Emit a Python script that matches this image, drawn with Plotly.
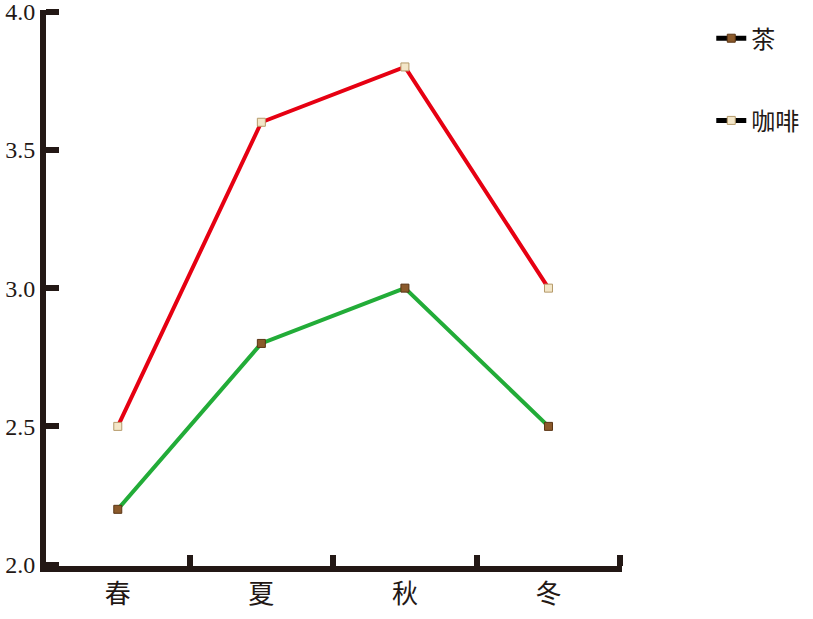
import plotly.graph_objects as go

seasons = ["春", "夏", "秋", "冬"]
tea = [2.2, 2.8, 3.0, 2.5]
coffee = [2.5, 3.6, 3.8, 3.0]
y_ticks = [2.0, 2.5, 3.0, 3.5, 4.0]
y_tick_text = ["2.0", "2.5", "3.0", "3.5", "4.0"]

axis_color = "#231815"
red = "#e60012"
green = "#22ac38"
tea_marker = "#8b5a2b"
coffee_marker = "#f3e6c8"

fig = go.Figure()
fig.add_trace(go.Scatter(
    x=seasons, y=coffee, mode="lines+markers", name="咖啡", showlegend=False,
    line=dict(color=red, width=4),
    marker=dict(symbol="square", size=8, color=coffee_marker, line=dict(color="#b59a6a", width=1)),
))
fig.add_trace(go.Scatter(
    x=seasons, y=tea, mode="lines+markers", name="茶", showlegend=False,
    line=dict(color=green, width=4),
    marker=dict(symbol="square", size=8, color=tea_marker, line=dict(color="#5a3515", width=1)),
))
# legend entries (black lines as in reference)
fig.add_trace(go.Scatter(
    x=[None], y=[None], mode="lines+markers", name="茶", legendgroup="a",
    line=dict(color="black", width=5),
    marker=dict(symbol="square", size=8, color=tea_marker, line=dict(color="#5a3515", width=1)),
))
fig.add_trace(go.Scatter(
    x=[None], y=[None], mode="lines+markers", name="咖啡", legendgroup="b",
    line=dict(color="black", width=5),
    marker=dict(symbol="square", size=8, color=coffee_marker, line=dict(color="#b59a6a", width=1)),
))

fig.update_layout(
    width=813, height=619,
    margin=dict(l=46, r=191, t=10, b=53, autoexpand=False),
    paper_bgcolor="white", plot_bgcolor="white",
    font=dict(family="Noto Sans CJK SC", color="#231815"),
    legend=dict(
        x=1.155, y=0.989, xanchor="left", yanchor="top",
        font=dict(size=24, family="Noto Sans CJK SC", color="#231815"),
        tracegroupgap=48, bgcolor="rgba(0,0,0,0)",
    ),
    xaxis=dict(
        type="category", range=[-0.5, 3.512], automargin=False,
        showline=True, linecolor=axis_color, linewidth=6,
        ticks="inside", tickson="boundaries", ticklen=11, tickwidth=6, tickcolor=axis_color,
        showgrid=False, zeroline=False,
        tickfont=dict(size=26, family="Noto Sans CJK SC", color="#231815"),
    ),
    yaxis=dict(
        range=[1.995, 4.006], tickvals=y_ticks, ticktext=y_tick_text, automargin=False,
        ticklabeloverflow="allow",
        showline=True, linecolor=axis_color, linewidth=6,
        ticks="inside", ticklen=13, tickwidth=6, tickcolor=axis_color,
        showgrid=False, zeroline=False,
        tickfont=dict(size=24, family="Liberation Serif", color="#231815"),
    ),
)

fig.write_html("out.html", config={"displayModeBar": False},
               post_script="document.body.style.margin='0';")
